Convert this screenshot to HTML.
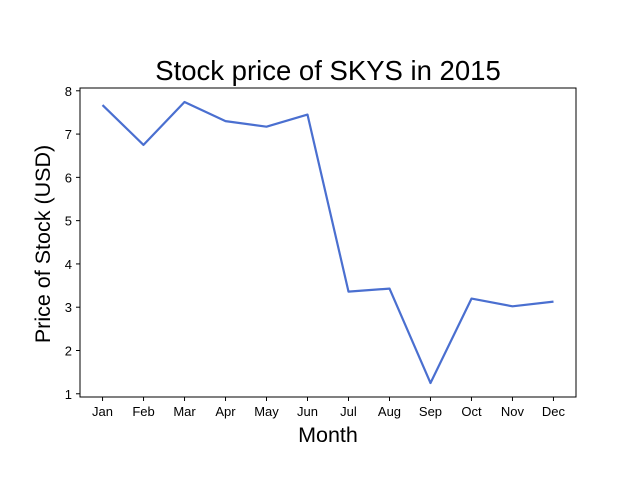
<!DOCTYPE html>
<html><head><meta charset="utf-8"><style>
body{margin:0;background:#fff;}
svg{display:block;font-family:"Liberation Sans","DejaVu Sans",sans-serif;}
</style></head><body>
<svg id="chart" width="640" height="480">
<rect x="0" y="0" width="640" height="480" fill="#fff"/>
<text x="328" y="80" font-size="27.5" text-anchor="middle">Stock price of SKYS in 2015</text>
<text x="328" y="442" font-size="21.5" text-anchor="middle">Month</text>
<text transform="translate(50,244) rotate(-90)" font-size="21.5" text-anchor="middle">Price of Stock (USD)</text>
<g id="ticks"></g>
<path id="line" fill="none" stroke="#4a6fd0" stroke-width="2.2" stroke-linejoin="round"/>
<rect x="80" y="88" width="496" height="309" fill="none" stroke="#000" stroke-width="1"/>
</svg>
<script>
const months=["Jan","Feb","Mar","Apr","May","Jun","Jul","Aug","Sep","Oct","Nov","Dec"];
const prices=[7.67,6.75,7.74,7.3,7.17,7.45,3.36,3.43,1.25,3.2,3.02,3.13];
const yTicks=[1,2,3,4,5,6,7,8];
const L=80,R=576,T=88,B=397;
const n=months.length;
const xpad=(n-1)*0.05;
function xs(i){return L+(i+xpad)/((n-1)+2*xpad)*(R-L);}
const mn=Math.min(...prices),mx=Math.max(...prices),pad=(mx-mn)*0.05;
const y0=mn-pad,y1=mx+pad;
function ys(v){return B-(v-y0)/(y1-y0)*(B-T);}
const NS="http://www.w3.org/2000/svg";
const g=document.getElementById('ticks');
months.forEach((m,i)=>{
  const x=xs(i);
  const t=document.createElementNS(NS,'line');
  t.setAttribute('x1',x);t.setAttribute('x2',x);t.setAttribute('y1',B);t.setAttribute('y2',B+4);t.setAttribute('stroke','#000');
  
  
  g.appendChild(t);
  const l=document.createElementNS(NS,'text');
  l.setAttribute('x',x);l.setAttribute('y',B+19);l.setAttribute('font-size','13');l.setAttribute('text-anchor','middle');
  l.textContent=m;
  
  
  g.appendChild(l);
});
yTicks.forEach(v=>{
  const y=ys(v);
  const t=document.createElementNS(NS,'line');
  t.setAttribute('x1',L-4);t.setAttribute('x2',L);t.setAttribute('y1',y);t.setAttribute('y2',y);t.setAttribute('stroke','#000');
  
  
  g.appendChild(t);
  const l=document.createElementNS(NS,'text');
  l.setAttribute('x',L-8);l.setAttribute('y',y+5);l.setAttribute('font-size','13');l.setAttribute('text-anchor','end');
  l.textContent=v;
  
  
  g.appendChild(l);
});
document.getElementById('line').setAttribute('d',prices.map((p,i)=>(i?'L':'M')+xs(i).toFixed(1)+','+ys(p).toFixed(1)).join(' '));
</script>
</body></html>
